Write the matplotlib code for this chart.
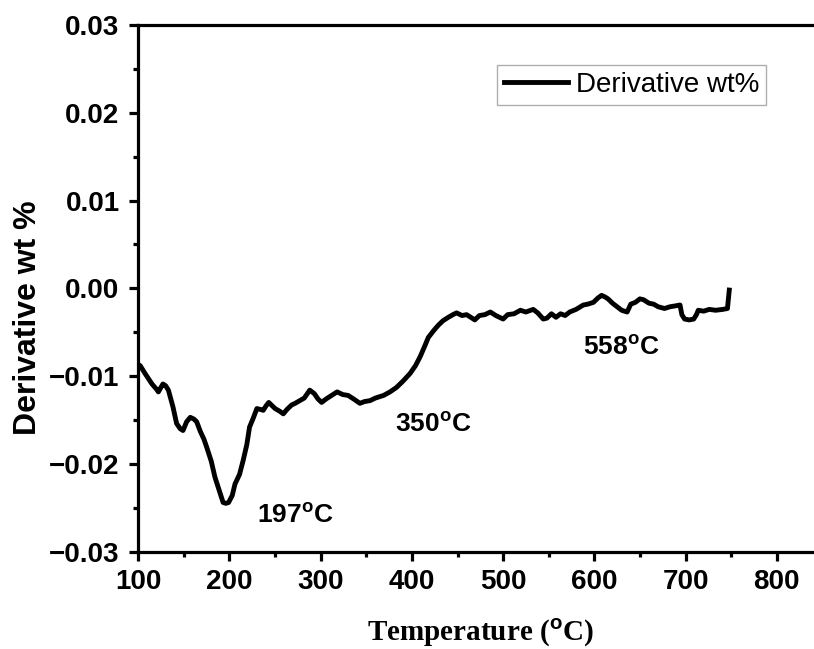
import matplotlib
matplotlib.use('Agg')
import matplotlib.pyplot as plt
from matplotlib.ticker import MultipleLocator, FuncFormatter

plt.rcParams['font.family'] = ['Liberation Sans', 'DejaVu Sans']
plt.rcParams['mathtext.fontset'] = 'custom'
plt.rcParams['mathtext.rm'] = 'Liberation Sans'
plt.rcParams['mathtext.bf'] = 'Liberation Sans:bold'

# DTG curve
temp = [100, 102, 108, 115, 120, 122, 127, 130, 133, 138,
        142, 146, 149, 153, 157, 161, 164, 168, 172, 175,
        180, 184, 189, 193, 196, 199, 203, 206, 211, 215,
        219, 222, 226, 230, 234, 237, 240, 243, 247, 250,
        255, 259, 263, 268, 272, 277, 282, 288, 293, 297,
        301, 306, 312, 318, 324, 330, 336, 343, 348, 354,
        360, 369, 376, 383, 390, 398, 404, 409, 414, 418,
        424, 429, 434, 440, 445, 449, 455, 460, 469, 474,
        480, 486, 492, 500, 505, 512, 519, 525, 533, 538,
        544, 548, 553, 558, 563, 568, 573, 580, 588, 593,
        599, 604, 608, 612, 615, 620, 625, 630, 636, 640,
        645, 650, 654, 660, 665, 670, 677, 683, 689, 694,
        696, 699, 704, 709, 712, 714, 720, 726, 733, 741,
        746, 748]
deriv = [-0.0087, -0.0088, -0.0098, -0.0109, -0.0115, -0.0118, -0.0109, -0.0111, -0.0116, -0.0135,
         -0.0154, -0.0160, -0.0162, -0.0152, -0.0147, -0.0149, -0.0152, -0.0163, -0.0172, -0.0181,
         -0.0197, -0.0215, -0.0231, -0.0244, -0.0245, -0.0244, -0.0236, -0.0223, -0.0212, -0.0196,
         -0.0178, -0.0158, -0.0148, -0.0137, -0.0138, -0.0139, -0.0134, -0.0130, -0.0134, -0.0137,
         -0.0140, -0.0143, -0.0138, -0.0133, -0.0131, -0.0128, -0.0125, -0.0116, -0.0120, -0.0126,
         -0.0130, -0.0126, -0.0122, -0.0118, -0.0121, -0.0122, -0.0126, -0.0131, -0.0129, -0.0128,
         -0.0125, -0.0122, -0.0118, -0.0113, -0.0106, -0.0097, -0.0088, -0.0078, -0.0066, -0.0056,
         -0.0048, -0.0042, -0.0037, -0.0033, -0.0030, -0.0028, -0.0031, -0.0030, -0.0036, -0.0031,
         -0.0030, -0.0027, -0.0031, -0.0035, -0.0030, -0.0029, -0.0025, -0.0027, -0.0024, -0.0028,
         -0.0035, -0.0034, -0.0029, -0.0033, -0.0029, -0.0031, -0.0027, -0.0024, -0.0019, -0.0018,
         -0.0016, -0.0011, -0.0008, -0.0010, -0.0012, -0.0017, -0.0021, -0.0025, -0.0027, -0.0018,
         -0.0016, -0.0012, -0.0013, -0.0017, -0.0018, -0.0021, -0.0023, -0.0021, -0.0020, -0.0019,
         -0.0030, -0.0035, -0.0036, -0.0035, -0.0030, -0.0025, -0.0026, -0.0024, -0.0025, -0.0024,
         -0.0023, -0.0002]

peak_labels = ['197', '350', '558']
peak_x = [230, 381, 588]
peak_y = [-0.0267, -0.0163, -0.0076]

fig = plt.figure(figsize=(8.14, 6.49), dpi=100)
ax = fig.add_axes([0.1699, 0.150, 0.8403, 0.8115])

ax.plot(temp, deriv, color='black', lw=3.5, label='Derivative wt%')

for lab, x, y in zip(peak_labels, peak_x, peak_y):
    ax.text(x, y, lab + r'$^{\mathbf{o}}$C', fontsize=19, fontweight='bold',
            ha='left', va='baseline')

ax.set_xlim(100, 850)
ax.set_ylim(-0.03, 0.03)
ax.xaxis.set_major_locator(MultipleLocator(100))
ax.xaxis.set_minor_locator(MultipleLocator(50))
ax.yaxis.set_major_locator(MultipleLocator(0.01))
ax.yaxis.set_minor_locator(MultipleLocator(0.005))
ax.yaxis.set_major_formatter(FuncFormatter(lambda v, p: ('%.2f' % v).replace('-', '\u2212')))

for s in ax.spines.values():
    s.set_linewidth(2.3)
ax.tick_params(which='major', direction='out', length=6.5, width=2.3, labelsize=20)
ax.tick_params(which='minor', direction='out', length=3.5, width=2.3)
ax.tick_params(axis='x', pad=6)
ax.tick_params(axis='y', pad=7)
for lab in ax.get_xticklabels() + ax.get_yticklabels():
    lab.set_fontweight('bold')

ax.set_ylabel('Derivative wt %', fontsize=23, fontweight='bold')
ax.yaxis.set_label_coords(-0.14, 0.444)
ax.set_xlabel(r'Temperature ($^{\mathbf{o}}$C)', fontsize=21, fontweight='bold',
              family=['Liberation Serif'], labelpad=16)

leg = ax.legend(loc='upper left', bbox_to_anchor=(0.524, 0.924), borderaxespad=0,
                fontsize=20, frameon=True, fancybox=False, handlelength=2.3,
                handletextpad=0.3, borderpad=0.25)
leg.get_frame().set_edgecolor('#999999')
leg.get_frame().set_linewidth(1.0)

fig.savefig('out.png', dpi=100)
